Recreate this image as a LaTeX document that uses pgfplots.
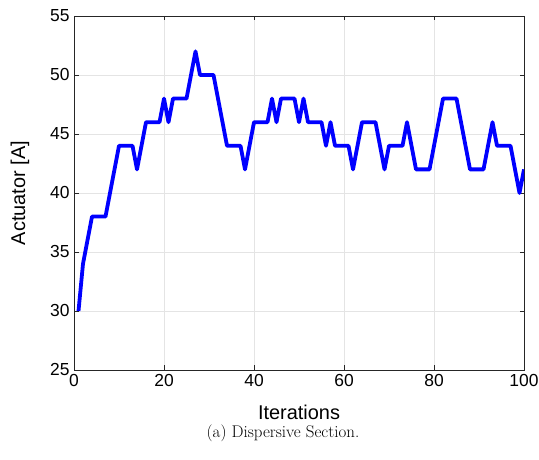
\documentclass[border=0pt]{standalone}
\usepackage{pgfplots}
\pgfplotsset{compat=1.18}
\usepackage{fontspec}
\setsansfont{Liberation Sans}
\definecolor{axgray}{RGB}{38,38,38}
\definecolor{gridgray}{RGB}{228,228,228}
\begin{document}
\begin{tikzpicture}[x=1bp,y=1bp]
\path[use as bounding box] (0,0) rectangle (539,460);
\begin{axis}[
  at={(74bp,90bp)}, anchor=south west,
  scale only axis, width=450bp, height=354bp,
  xmin=0, xmax=100, ymin=25, ymax=55,
  xtick={0,20,...,100}, ytick={25,30,...,55},
  grid=major,
  major grid style={gridgray, line width=0.8pt},
  axis line style={axgray, line width=0.8pt},
  tick style={axgray, line width=0.8pt},
  major tick length=4.5bp,
  tick align=inside,
  xtick pos=both, ytick pos=both,
  /pgf/number format/assume math mode=true,
  ticklabel style={font=\sffamily\fontsize{17.5}{20}\selectfont, text=black},
  xticklabel style={yshift=-1bp},
  yticklabel style={xshift=-1bp},
]
\addplot[color={rgb,255:red,0;green,0;blue,255}, line width=3.8bp, line join=round] table {
1 30
2 34
3 36
4 38
5 38
6 38
7 38
8 40
9 42
10 44
11 44
12 44
13 44
14 42
15 44
16 46
17 46
18 46
19 46
20 48
21 46
22 48
23 48
24 48
25 48
26 50
27 52
28 50
29 50
30 50
31 50
32 48
33 46
34 44
35 44
36 44
37 44
38 42
39 44
40 46
41 46
42 46
43 46
44 48
45 46
46 48
47 48
48 48
49 48
50 46
51 48
52 46
53 46
54 46
55 46
56 44
57 46
58 44
59 44
60 44
61 44
62 42
63 44
64 46
65 46
66 46
67 46
68 44
69 42
70 44
71 44
72 44
73 44
74 46
75 44
76 42
77 42
78 42
79 42
80 44
81 46
82 48
83 48
84 48
85 48
86 46
87 44
88 42
89 42
90 42
91 42
92 44
93 46
94 44
95 44
96 44
97 44
98 42
99 40
100 42
};
\end{axis}
\node[font=\sffamily\fontsize{20}{24}\selectfont] at (299,48) {Iterations};
\node[font=\sffamily\fontsize{20}{24}\selectfont, rotate=90] at (20,267) {Actuator [A]};
\node[font=\fontsize{17}{20}\selectfont] at (283,27) {(a) Dispersive Section.};
\end{tikzpicture}
\end{document}
